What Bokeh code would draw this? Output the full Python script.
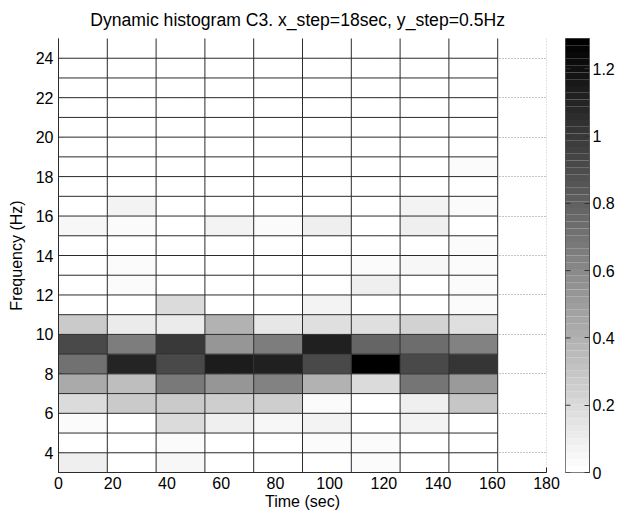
from bokeh.plotting import figure
from bokeh.models import ColumnDataSource, LinearColorMapper, LinearAxis, FixedTicker, Range1d, Span
from bokeh.transform import transform
from bokeh.layouts import row
from bokeh.embed import file_html
from bokeh.resources import INLINE

# ---------------- data ----------------
title_text = "Dynamic histogram C3.  x_step=18sec,  y_step=0.5Hz"
x_label = "Time (sec)"
y_label = "Frequency (Hz)"

time_starts = [0, 18, 36, 54, 72, 90, 108, 126, 144]
time_step = 18
freq_starts = [3, 4, 5, 6, 7, 8, 9, 10, 11, 12, 13, 14, 15, 16, 17, 18, 19, 20, 21, 22, 23, 24]
freq_step = 1

# one list per frequency row (lowest first), one value per time bin
row_03 = [0.09, 0.00, 0.05, 0.00, 0.00, 0.00, 0.025, 0.00, 0.00]
row_04 = [0.00, 0.00, 0.025, 0.00, 0.00, 0.025, 0.035, 0.00, 0.00]
row_05 = [0.025, 0.00, 0.19, 0.09, 0.05, 0.076, 0.00, 0.076, 0.00]
row_06 = [0.20, 0.28, 0.28, 0.25, 0.25, 0.025, 0.00, 0.10, 0.30]
row_07 = [0.43, 0.33, 0.68, 0.53, 0.64, 0.40, 0.19, 0.69, 0.51]
row_08 = [0.71, 1.09, 0.91, 1.14, 1.11, 0.91, 1.29, 0.91, 1.01]
row_09 = [0.91, 0.66, 0.99, 0.53, 0.66, 1.11, 0.78, 0.73, 0.64]
row_10 = [0.28, 0.116, 0.116, 0.39, 0.126, 0.167, 0.167, 0.228, 0.167]
row_11 = [0.00, 0.00, 0.19, 0.00, 0.00, 0.076, 0.00, 0.00, 0.025]
row_12 = [0.00, 0.025, 0.00, 0.00, 0.00, 0.00, 0.09, 0.00, 0.025]
row_13 = [0.00, 0.025, 0.00, 0.00, 0.00, 0.00, 0.025, 0.05, 0.025]
row_14 = [0.00, 0.01, 0.00, 0.00, 0.00, 0.00, 0.00, 0.00, 0.025]
row_15 = [0.05, 0.025, 0.00, 0.076, 0.025, 0.10, 0.00, 0.09, 0.00]
row_16 = [0.00, 0.076, 0.00, 0.00, 0.00, 0.00, 0.00, 0.076, 0.035]
row_17 = [0.00, 0.00, 0.00, 0.00, 0.00, 0.00, 0.00, 0.00, 0.00]
row_18 = [0.00, 0.00, 0.00, 0.00, 0.00, 0.00, 0.00, 0.00, 0.035]
row_19 = [0.00, 0.00, 0.00, 0.00, 0.00, 0.00, 0.00, 0.00, 0.00]
row_20 = [0.00, 0.00, 0.00, 0.00, 0.00, 0.00, 0.00, 0.00, 0.00]
row_21 = [0.00, 0.00, 0.00, 0.00, 0.00, 0.00, 0.00, 0.00, 0.00]
row_22 = [0.00, 0.00, 0.00, 0.00, 0.00, 0.00, 0.00, 0.00, 0.00]
row_23 = [0.00, 0.00, 0.00, 0.00, 0.00, 0.00, 0.00, 0.00, 0.00]
row_24 = [0.00, 0.00, 0.00, 0.00, 0.00, 0.00, 0.00, 0.00, 0.00]
rows = [row_03, row_04, row_05, row_06, row_07, row_08, row_09, row_10, row_11,
        row_12, row_13, row_14, row_15, row_16, row_17, row_18, row_19, row_20,
        row_21, row_22, row_23, row_24]

x_ticks = [0, 20, 40, 60, 80, 100, 120, 140, 160, 180]
y_ticks = [4, 6, 8, 10, 12, 14, 16, 18, 20, 22, 24]
cbar_ticks = [0, 0.2, 0.4, 0.6, 0.8, 1, 1.2]
cbar_labels = ["0", "0.2", "0.4", "0.6", "0.8", "1", "1.2"]
cbar_max = 1.29
n_levels = 64

# ---------------- styling ----------------
FONT = "Liberation Sans"
FS = "16px"
AX = "#222222"
EDGE = "#2b2b2b"
GRID = "#8a8a8a"

palette = []
for k in range(n_levels):
    g = int(round(255 * (1 - k / (n_levels - 1))))
    palette.append("#%02x%02x%02x" % (g, g, g))
mapper = LinearColorMapper(palette=palette, low=0, high=cbar_max)

left, right, bottom, top, val = [], [], [], [], []
for f, vals in zip(freq_starts, rows):
    for t, v in zip(time_starts, vals):
        left.append(t)
        right.append(t + time_step)
        bottom.append(f)
        top.append(f + freq_step)
        val.append(v)
src = ColumnDataSource(dict(left=left, right=right, bottom=bottom, top=top, value=val))

t_edges = time_starts + [time_starts[-1] + time_step]
f_lo = freq_starts[0]
f_hi = freq_starts[-1] + freq_step
seg = ColumnDataSource(dict(
    x0=list(t_edges) + [t_edges[0]] * len(freq_starts),
    x1=list(t_edges) + [t_edges[-1]] * len(freq_starts),
    y0=[f_lo] * len(t_edges) + list(freq_starts),
    y1=[f_hi] * len(t_edges) + list(freq_starts),
))

p = figure(width=560, height=515, x_range=Range1d(0, 180), y_range=Range1d(3, 25),
           output_backend="svg", toolbar_location=None, title=title_text,
           min_border_left=58, min_border_right=14, min_border_top=37, min_border_bottom=43)
p.outline_line_color = None
p.title.text_font = FONT
p.title.text_font_size = "17.6px"
p.title.text_font_style = "normal"
p.title.align = "center"
p.title.vertical_align = "top"
p.title.text_color = "#000000"
p.title.standoff = 14

p.quad(left="left", right="right", bottom="bottom", top="top", source=src,
       fill_color=transform("value", mapper), line_color=None, level="annotation")
p.segment(x0="x0", y0="y0", x1="x1", y1="y1", source=seg, line_color=EDGE,
          line_width=1, level="annotation")

p.xaxis.ticker = FixedTicker(ticks=x_ticks)
p.yaxis.ticker = FixedTicker(ticks=y_ticks)
for ax in (p.xaxis, p.yaxis):
    ax.axis_line_color = AX
    ax.major_tick_line_color = AX
    ax.major_tick_in = 5
    ax.major_tick_out = 0
    ax.minor_tick_line_color = None
    ax.major_label_text_font = FONT
    ax.major_label_text_font_size = FS
    ax.major_label_text_color = "#000000"
    ax.axis_label_text_font = FONT
    ax.axis_label_text_font_size = FS
    ax.axis_label_text_font_style = "normal"
    ax.axis_label_text_color = "#000000"
p.xaxis.axis_label = x_label
p.yaxis.axis_label = y_label
p.xaxis.major_label_standoff = 4
p.xaxis.axis_label_standoff = 1
p.yaxis.major_label_standoff = 5
p.yaxis.axis_label_standoff = 8

for g in (p.xgrid, p.ygrid):
    g.grid_line_color = GRID
    g.grid_line_dash = "1 2"
    g.grid_line_width = 1
# last vertical grid line sits on the frame edge; draw it fully
p.add_layout(Span(location=x_ticks[-1], dimension="height", line_color=GRID,
                  line_dash="1 2", line_width=1, level="underlay"))

# ---------------- colour bar ----------------
cb = figure(width=59, height=515, x_range=Range1d(0, 1), y_range=Range1d(0, cbar_max),
            output_backend="svg", toolbar_location=None,
            x_axis_location=None, y_axis_location=None,
            min_border_left=5, min_border_right=30, min_border_top=38, min_border_bottom=43)
cb.outline_line_color = "#555555"
lev_b = [k * cbar_max / n_levels for k in range(n_levels)]
lev_t = [(k + 1) * cbar_max / n_levels for k in range(n_levels)]
cb.quad(left=0, right=1, bottom=lev_b, top=lev_t, fill_color=palette, line_color=None)
# inward ticks on the left edge of the bar
cb.scatter(x=[0] * len(cbar_ticks), y=cbar_ticks, marker="dash", size=10,
           line_color="#333333", line_width=1)

ax_r = LinearAxis(ticker=FixedTicker(ticks=cbar_ticks),
                  major_label_overrides=dict(zip(cbar_ticks, cbar_labels)))
ax_r.axis_line_color = "#555555"
ax_r.major_tick_line_color = "#333333"
ax_r.major_tick_in = 5
ax_r.major_tick_out = 0
ax_r.minor_tick_line_color = None
ax_r.major_label_text_font = FONT
ax_r.major_label_text_font_size = FS
ax_r.major_label_text_color = "#000000"
ax_r.major_label_standoff = 3
cb.add_layout(ax_r, "right")
cb.xgrid.visible = False
cb.ygrid.visible = False

layout = row(p, cb)
open("out.html", "w").write(file_html(layout, INLINE))
